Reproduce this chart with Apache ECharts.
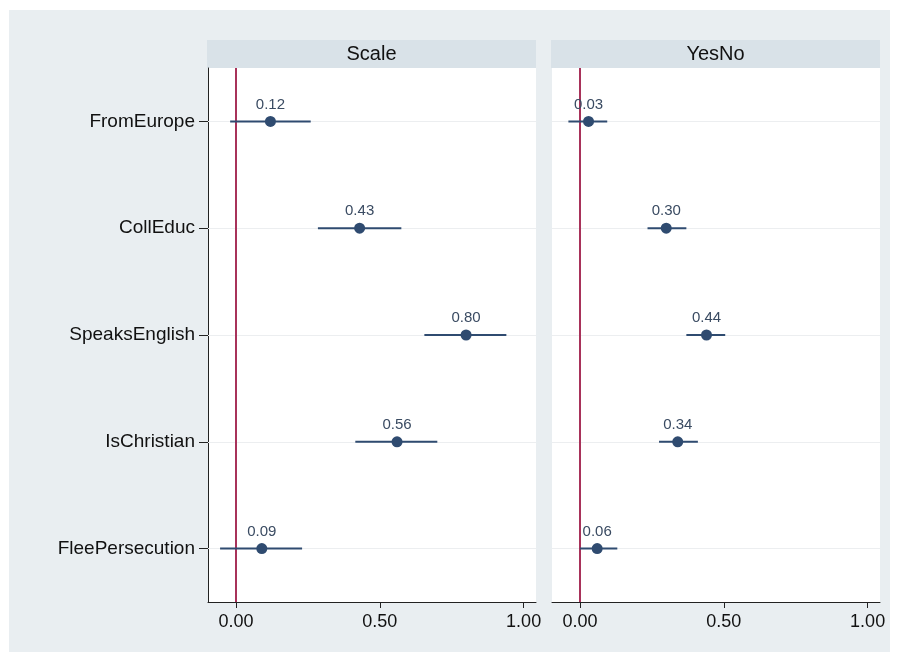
<!DOCTYPE html>
<html>
<head>
<meta charset="utf-8">
<script src="https://cdn.jsdelivr.net/npm/echarts@6/dist/echarts.min.js"></script>
<style>
  html, body { margin: 0; padding: 0; background: #ffffff; }
  #chart { width: 899px; height: 662px; }
</style>
</head>
<body>
<div id="chart"></div>
<script>
// Coefficient estimates with confidence intervals, one panel per outcome
const categories = ['FromEurope', 'CollEduc', 'SpeaksEnglish', 'IsChristian', 'FleePersecution'];
const panels = ['Scale', 'YesNo'];

const scaleEst = [0.12, 0.43, 0.80, 0.56, 0.09];
const scaleLow = [-0.02, 0.285, 0.655, 0.415, -0.055];
const scaleHigh = [0.26, 0.575, 0.94, 0.70, 0.23];

const yesNoEst = [0.03, 0.30, 0.44, 0.34, 0.06];
const yesNoLow = [-0.04, 0.235, 0.37, 0.275, 0.00];
const yesNoHigh = [0.095, 0.37, 0.505, 0.41, 0.13];

const xTicks = [0, 0.5, 1];

const FONT = '"Liberation Sans", Arial, Helvetica, sans-serif';
const NAVY = '#2f4b70';
const REF = '#a8325a';

const chart = echarts.init(document.getElementById('chart'), null, { renderer: 'canvas' });

const grids = [
  { left: 208, top: 68, width: 328, height: 534 },
  { left: 552, top: 68, width: 328, height: 534 }
];

function xAxisFor(i) {
  return {
    type: 'value', gridIndex: i, min: -0.097, max: 1.043,
    axisLine: { show: true, onZero: false, lineStyle: { color: '#222', width: 1 } },
    axisTick: { show: true, customValues: xTicks, length: 6, lineStyle: { color: '#222' } },
    axisLabel: {
      customValues: xTicks, formatter: v => v.toFixed(2), margin: 11,
      fontFamily: FONT, fontSize: 18, color: '#111'
    },
    splitLine: { show: false }
  };
}

function yAxisFor(i) {
  return {
    type: 'category', gridIndex: i, data: categories, inverse: true,
    axisLine: { show: i === 0, onZero: false, lineStyle: { color: '#222', width: 1 } },
    axisTick: { show: i === 0, alignWithLabel: true, length: 9, lineStyle: { color: '#222', width: 1 } },
    axisLabel: { show: i === 0, margin: 13, fontFamily: FONT, fontSize: 19, color: '#111' },
    splitLine: { show: false }
  };
}

// faint row guides and the zero reference line, drawn beneath the estimates
function guideSeries(i) {
  return {
    type: 'scatter', xAxisIndex: i, yAxisIndex: i, z: 1, data: [], silent: true,
    markLine: {
      z: 1, silent: true, symbol: 'none', animation: false,
      label: { show: false },
      data: categories.map(c => ({ yAxis: c, lineStyle: { color: '#eceef0', width: 1, type: 'solid' } }))
        .concat([{ xAxis: 0, lineStyle: { color: REF, width: 2, type: 'solid' } }])
    }
  };
}

function intervalSeries(i, low, high) {
  return {
    type: 'custom', xAxisIndex: i, yAxisIndex: i, z: 3,
    data: categories.map((c, k) => [low[k], high[k], k]),
    renderItem: (params, api) => {
      const a = api.coord([api.value(0), api.value(2)]);
      const b = api.coord([api.value(1), api.value(2)]);
      return {
        type: 'line',
        shape: { x1: a[0], y1: a[1], x2: b[0], y2: b[1] },
        style: { stroke: NAVY, lineWidth: 2 }
      };
    },
    silent: true
  };
}

function pointSeries(i, est) {
  return {
    type: 'scatter', xAxisIndex: i, yAxisIndex: i, z: 4,
    data: categories.map((c, k) => [est[k], c]),
    symbol: 'circle', symbolSize: 11,
    itemStyle: { color: NAVY, opacity: 1 },
    label: {
      show: true, position: 'top', distance: 4,
      formatter: p => p.value[0].toFixed(2),
      fontFamily: FONT, fontSize: 15, color: '#3a4b62'
    }
  };
}

function header(i, text) {
  const g = grids[i];
  return {
    type: 'group', left: g.left - 1, top: 40,
    children: [
      { type: 'rect', shape: { x: 0, y: 0, width: g.width + 1, height: 28 }, style: { fill: '#d9e2e8' } },
      {
        type: 'text', x: (g.width + 1) / 2, y: 14,
        style: { text: text, fill: '#111', font: '20px ' + FONT, textAlign: 'center', textVerticalAlign: 'middle' }
      }
    ]
  };
}

chart.setOption({
  animation: false,
  backgroundColor: '#ffffff',
  graphic: [
    { type: 'rect', left: 9, top: 10, z: -10, shape: { width: 881, height: 642 }, style: { fill: '#e9eef1' } },
    header(0, panels[0]),
    header(1, panels[1])
  ],
  grid: grids.map(g => Object.assign({ show: true, backgroundColor: '#ffffff', borderWidth: 0 }, g)),
  xAxis: [xAxisFor(0), xAxisFor(1)],
  yAxis: [yAxisFor(0), yAxisFor(1)],
  series: [
    guideSeries(0),
    intervalSeries(0, scaleLow, scaleHigh),
    pointSeries(0, scaleEst),
    guideSeries(1),
    intervalSeries(1, yesNoLow, yesNoHigh),
    pointSeries(1, yesNoEst)
  ]
});
</script>
</body>
</html>
